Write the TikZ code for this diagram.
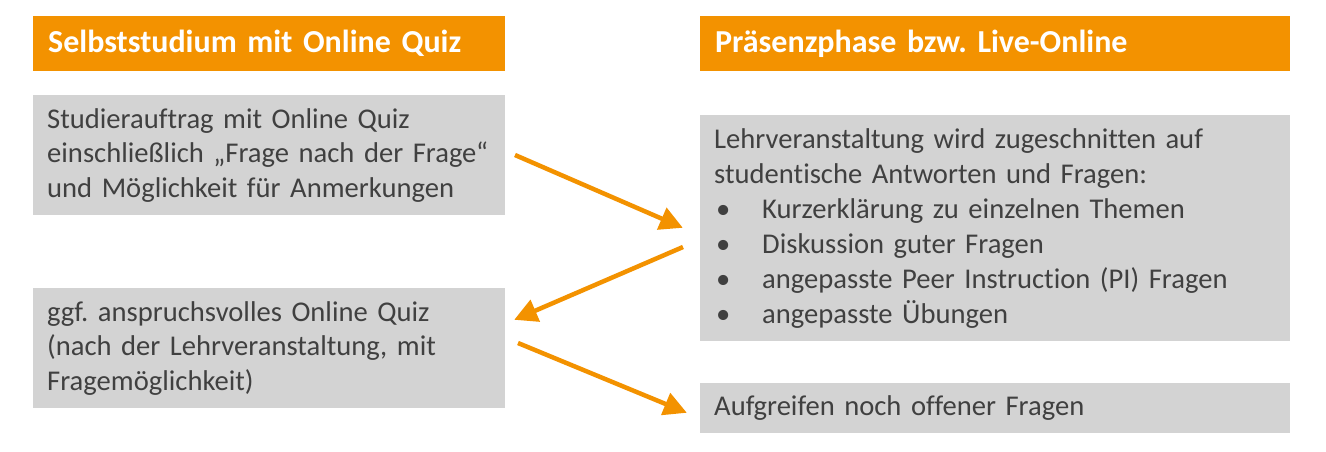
\documentclass[tikz,border=0pt]{standalone}
\usepackage{fontspec}
\setmainfont{Carlito}[Ligatures={NoCommon}]
\usetikzlibrary{arrows.meta}
\definecolor{orng}{HTML}{F39200}
\definecolor{boxgray}{HTML}{D3D3D3}
\definecolor{txtgray}{HTML}{404040}
\tikzset{
  hdr/.style={fill=orng, text=white, anchor=north west, inner xsep=15pt, inner ysep=0pt,
    font=\fontsize{32}{36}\selectfont\bfseries, align=left, minimum height=55pt},
  gbox/.style={fill=boxgray, text=txtgray, anchor=north west, inner xsep=14pt, inner ysep=0pt,
    font=\fontsize{28.6}{34.5}\selectfont, align=left},
  flow/.style={draw=orng, line width=4.5pt, -{Triangle[length=23pt,width=23pt]}, shorten >=-2pt}
}
\newcommand{\bul}[1]{\makebox[48pt][l]{\hspace*{2pt}•}#1}
\begin{document}
\frenchspacing
\begin{tikzpicture}[x=1pt,y=-1pt]
\useasboundingbox (0,0) rectangle (1326,451);
\node[hdr, text width=442pt] (h1) at (33,16) {Selbststudium mit Online Quiz};
\node[hdr, text width=560pt] (h2) at (700,16) {Präsenzphase bzw. Live-Online};
\node[gbox, text width=444pt, minimum height=120pt] (l1) at (33,95)
  {Studierauftrag mit Online Quiz\\einschließlich „Frage nach der Frage“\\und Möglichkeit für Anmerkungen};
\node[gbox, text width=444pt, minimum height=120pt] (l2) at (33,288)
  {ggf. anspruchsvolles Online Quiz\\(nach der Lehrveranstaltung, mit\\Fragemöglichkeit)};
\node[gbox, text width=562pt, minimum height=226pt, font=\fontsize{28.6}{35}\selectfont] (r1) at (700,115)
  {Lehrveranstaltung wird zugeschnitten auf\\studentische Antworten und Fragen:\\
   \bul{Kurzerklärung zu einzelnen Themen}\\
   \bul{Diskussion guter Fragen}\\
   \bul{angepasste Peer Instruction (PI) Fragen}\\
   \bul{angepasste Übungen}};
\node[gbox, text width=562pt, minimum height=50pt] (r2) at (700,383)
  {Aufgreifen noch offener Fragen};
\coordinate (a1s) at (515,155);
\coordinate (a1e) at (681,227);
\coordinate (a2s) at (683,247);
\coordinate (a2e) at (516,319);
\coordinate (a3s) at (518,343);
\coordinate (a3e) at (685,412);
\draw[flow] (a1s) -- (a1e);
\draw[flow] (a2s) -- (a2e);
\draw[flow] (a3s) -- (a3e);
\end{tikzpicture}
\end{document}
